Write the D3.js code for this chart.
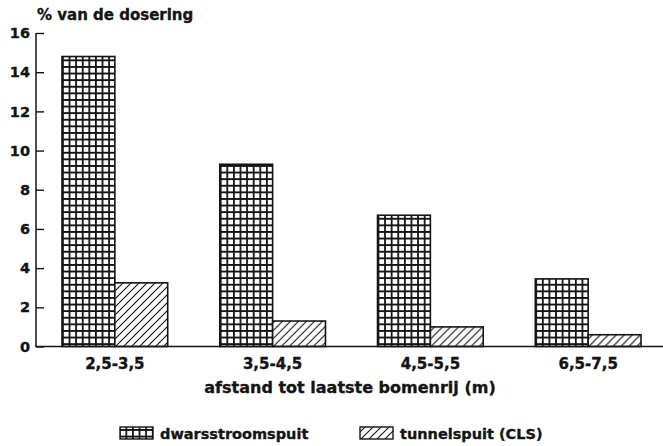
<!DOCTYPE html>
<html><head><meta charset="utf-8">
<script src="https://cdn.jsdelivr.net/npm/d3@7"></script>
<style>
body{margin:0;background:#fff;}
svg{display:block;font-family:"DejaVu Sans",sans-serif;font-weight:bold;}
svg text{stroke:#141414;stroke-width:0.35px;}
</style></head>
<body><svg id="c" width="663" height="446"></svg>
<script>
const categories = ["2,5-3,5","3,5-4,5","4,5-5,5","6,5-7,5"];
const seriesNames = ["dwarsstroomspuit","tunnelspuit (CLS)"];
const dwarsValues = [14.8, 9.3, 6.7, 3.45];
const tunnelValues = [3.25, 1.3, 1.0, 0.6];
const yTicks = [0,2,4,6,8,10,12,14,16];
const yTitle = "% van de dosering";
const xTitle = "afstand tot laatste bomenrij (m)";

const svg = d3.select("#c");
const defs = svg.append("defs");
const ink = "#141414";

// grid pattern
const g1 = defs.append("pattern").attr("id","grid").attr("patternUnits","userSpaceOnUse")
  .attr("width",6.6).attr("height",6.6);
g1.append("rect").attr("width",6.6).attr("height",6.6).attr("fill","#fff");
g1.append("path").attr("d","M0,0.9H6.6M0.9,0V6.6").attr("stroke",ink).attr("stroke-width",1.8);
// hatch pattern
const g2 = defs.append("pattern").attr("id","hatch").attr("patternUnits","userSpaceOnUse")
  .attr("width",8).attr("height",8);
g2.append("rect").attr("width",8).attr("height",8).attr("fill","#fff");
g2.append("path").attr("d","M-2,2L2,-2M0,8L8,0M6,10L10,6").attr("stroke",ink).attr("stroke-width",1.1);

const fills = ["url(#grid)","url(#hatch)"];

const y = d3.scaleLinear().domain([0,16]).range([346.5,33]);
const x = d3.scaleBand().domain(categories).range([62,641]).paddingInner(0.33).paddingOuter(0);
const xs = d3.scaleBand().domain([0,1]).range([0,x.bandwidth()]);

const data = categories.map((c,i)=>({c, v:[dwarsValues[i], tunnelValues[i]]}));

const groups = svg.append("g").selectAll("g").data(data).join("g")
  .attr("transform",d=>`translate(${x(d.c)},0)`);
groups.selectAll("rect").data(d=>d.v.map((v,k)=>({v,k}))).join("rect")
  .attr("x",d=>xs(d.k)).attr("width",xs.bandwidth())
  .attr("y",d=>y(d.v)).attr("height",d=>y(0)-y(d.v))
  .attr("fill",d=>fills[d.k]).attr("stroke",ink).attr("stroke-width",1.6);

// y axis
const ya = svg.append("g").attr("transform","translate(36,0)")
  .call(d3.axisLeft(y).tickValues(yTicks).tickSize(-8).tickPadding(6).tickFormat(d3.format("d")));
ya.select(".domain").remove();
ya.selectAll("line").attr("stroke",ink).attr("stroke-width",1.4);
ya.selectAll("text").attr("font-size",14.5).attr("font-weight","bold").attr("fill",ink).attr("font-family","DejaVu Sans");
svg.append("line").attr("x1",36).attr("x2",36).attr("y1",y(16)).attr("y2",y(0)).attr("stroke",ink).attr("stroke-width",1.5);
svg.append("line").attr("x1",35.3).attr("x2",663).attr("y1",y(0)).attr("y2",y(0)).attr("stroke",ink).attr("stroke-width",1.5);

// x axis labels
const xa = svg.append("g").attr("transform",`translate(0,${y(0)})`)
  .call(d3.axisBottom(x).tickSize(0).tickPadding(12));
xa.select(".domain").remove();
xa.selectAll("text").attr("font-size",15).attr("font-weight","bold").attr("fill",ink).attr("font-family","DejaVu Sans");

svg.append("text").attr("x",37).attr("y",20).attr("font-size",15).attr("fill",ink).text(yTitle);
svg.append("text").attr("x",350).attr("y",393).attr("text-anchor","middle").attr("font-size",16).attr("fill",ink).text(xTitle);

// legend
const legX = [120,360];
seriesNames.forEach((n,k)=>{
  svg.append("rect").attr("x",legX[k]).attr("y",427).attr("width",33).attr("height",12)
    .attr("fill",fills[k]).attr("stroke",ink).attr("stroke-width",1.4);
  svg.append("text").attr("x",legX[k]+40).attr("y",439).attr("font-size",14.5).attr("fill",ink).text(n);
});
</script></body></html>
